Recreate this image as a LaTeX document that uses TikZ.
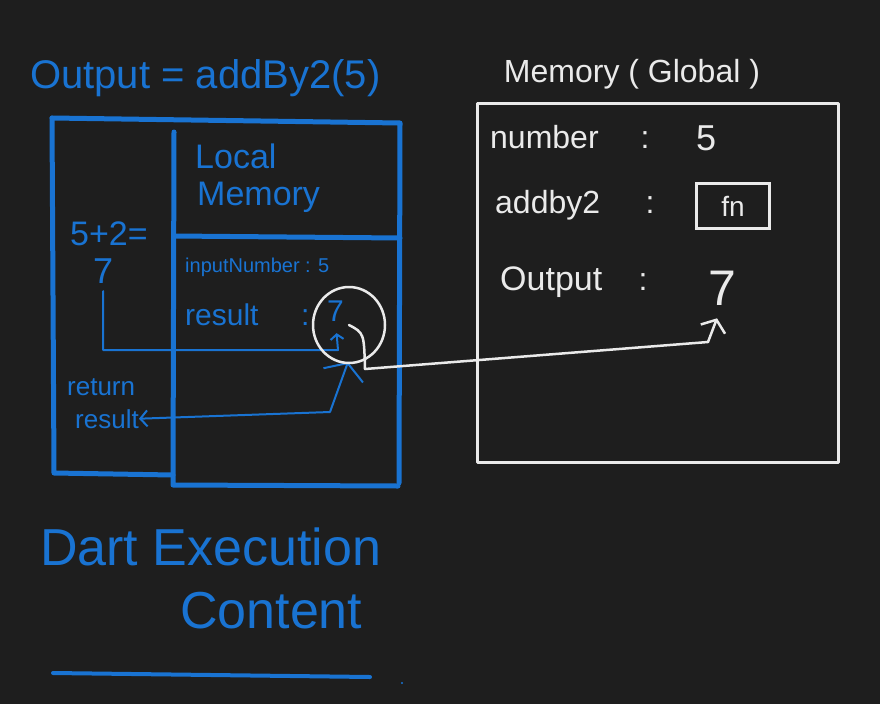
\documentclass[tikz,border=0pt]{standalone}
\usepackage{fontspec}
\setmainfont{Liberation Sans}
\usetikzlibrary{arrows.meta,shapes.geometric}
\definecolor{boardbg}{RGB}{30,30,30}
\definecolor{penblue}{RGB}{25,115,210}
\definecolor{penwhite}{RGB}{234,234,234}
\newcommand{\fsz}[1]{\fontsize{#1}{#1}\selectfont}

\begin{document}
\begin{tikzpicture}[x=1pt,y=-1pt,
		bluepen/.style={draw=penblue,line width=2pt,line cap=round,line join=round},
		bluebox/.style={draw=penblue,line width=5pt,line cap=round,line join=round},
		whitepen/.style={draw=penwhite,line width=2.5pt,line cap=round,line join=round},
		bluetext/.style={text=penblue},
		whitetext/.style={text=penwhite},
		barb/.style={-{Straight Barb[length=#1,width=2.6*#1]}}]
		\tikzstyle{every node}+=[inner sep=0pt]
		\fill [boardbg] (0,0) rectangle (880,704);
		\useasboundingbox (0,0) rectangle (880,704);
		\node [bluetext,anchor=base west,font=\fsz{40}] (callline) at (30,88) {Output = addBy2(5)};
		\draw [bluebox] (52,118) -- (400,123) -- (399,483);
		\draw [bluebox] (52,118) -- (54,473) -- (173,475);
		\draw [bluebox] (174,132) -- (173,485) -- (398,486);
		\draw [bluebox] (174,236) -- (400,238);
		\node [bluetext,anchor=base west,font=\fsz{34}] (localtop) at (195,168) {Local};
		\node [bluetext,anchor=base west,font=\fsz{34}] (localbot) at (197,205) {Memory};
		\node [bluetext,anchor=base west,font=\fsz{20}] (inarg) at (185,272) {inputNumber : 5};
		\node [bluetext,anchor=base west,font=\fsz{30}] (reskey) at (185,325) {result};
		\node [bluetext,anchor=base west,font=\fsz{30}] (rescolon) at (301,325) {:};
		\node [bluetext,anchor=base west,font=\fsz{30}] (resval) at (327,321) {7};
		\node [bluetext,anchor=base west,font=\fsz{34}] (sumexpr) at (70,245) {5+2=};
		\node [bluetext,anchor=base west,font=\fsz{36}] (sumval) at (93,283) {7};
		\node [bluetext,anchor=base west,font=\fsz{26}] (rettop) at (67,395) {return};
		\node [bluetext,anchor=base west,font=\fsz{26}] (retbot) at (75,428) {result};
		\node [bluetext,anchor=base west,font=\fsz{52}] (ctxtop) at (40,565) {Dart Execution};
		\node [bluetext,anchor=base west,font=\fsz{52}] (ctxbot) at (180,628) {Content};
		\coordinate (resfoot) at (338,350);
		\draw [bluepen,barb=5pt,shorten <=8pt,shorten >=12pt] (sumval.south) |- (resfoot) -- (resval.south);
		\coordinate (retup) at (348,362);
		\coordinate (retbend) at (330,412);
		\draw [bluepen,{Straight Barb[length=7pt,width=16pt]}-{Straight Barb[length=13pt,width=42pt]}] (retbot.east) -- (retbend) -- (retup);
		\draw [penblue,line width=4pt,line cap=round] (53,673) -- (370,677);
		\fill [penblue] (402,683) circle (1.2);
		\node [whitetext,anchor=base,font=\fsz{32}] (globtitle) at (632,82) {Memory ( Global )};
		\draw [whitepen,line width=3pt] (477,103) rectangle (838,462);
		\node [whitetext,anchor=base west,font=\fsz{32}] (gkey1) at (490,148) {number};
		\node [whitetext,anchor=base west,font=\fsz{32}] (gkey2) at (495,213) {addby2};
		\node [whitetext,anchor=base west,font=\fsz{34}] (gkey3) at (500,290) {Output};
		\node [whitetext,anchor=base,font=\fsz{32}] (gcolon1) at (645,148) {:};
		\node [whitetext,anchor=base,font=\fsz{32}] (gcolon2) at (650,213) {:};
		\node [whitetext,anchor=base,font=\fsz{32}] (gcolon3) at (643,290) {:};
		\node [whitetext,anchor=base,font=\fsz{36}] (gval1) at (706,150) {5};
		\node [whitetext,draw=penwhite,line width=2.5pt,minimum width=73pt,minimum height=45pt,font=\fsz{28}] (gval2) at (733,206) {fn};
		\node [whitetext,anchor=base,font=\fsz{50}] (gval3) at (722,305) {7};
		\node [draw=penwhite,line width=2.5pt,ellipse,minimum width=72pt,minimum height=76pt] (ring) at (349,325) {};
		\coordinate (ringhook) at (365,369);
		\coordinate (gbend) at (708,342);
		\draw [whitepen,barb=10pt,shorten >=14pt] (ring.center) .. controls (364,333) .. (ringhook) -- (gbend) -- (gval3.south);
\end{tikzpicture}
\end{document}
